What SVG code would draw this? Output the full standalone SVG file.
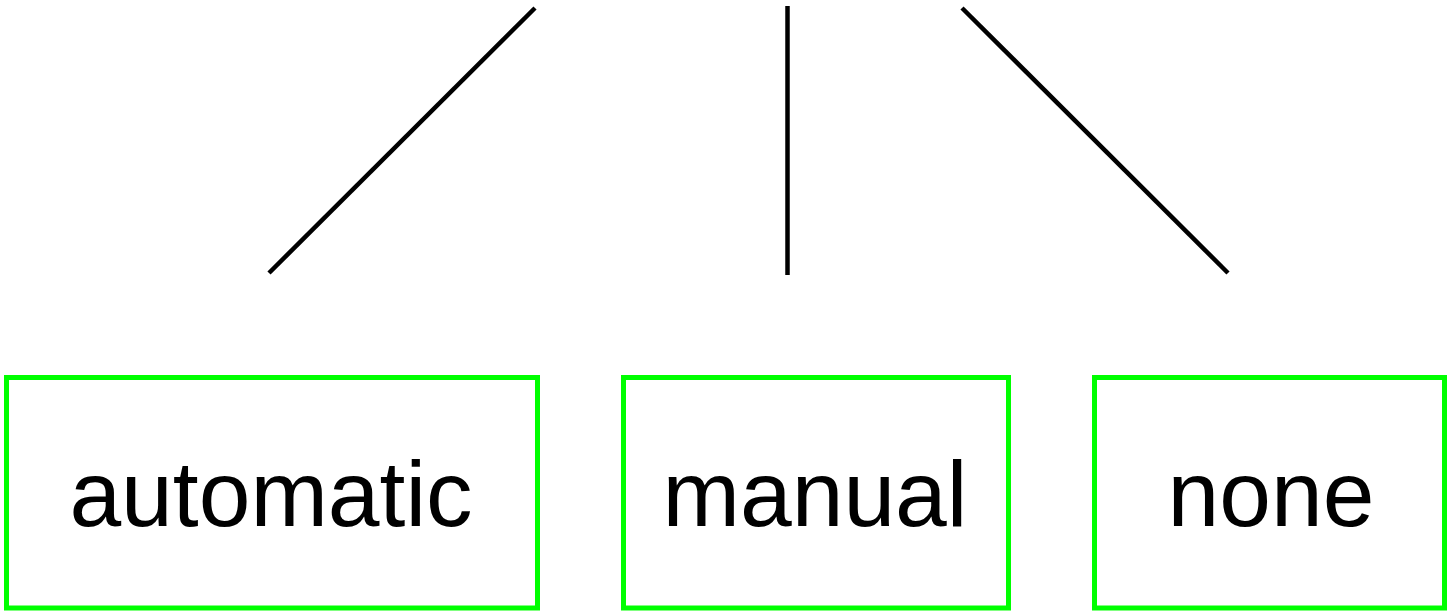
<svg xmlns="http://www.w3.org/2000/svg" width="1450" height="611" viewBox="0 0 1450 611">
<style>
.box{fill:#fff;stroke:#00ff00;stroke-width:5}
.lbl{font-family:"Liberation Sans",Arial,sans-serif;font-size:93px;fill:#000;text-anchor:middle}
.edge{stroke:#000;stroke-width:4.5;fill:none}
</style>
<rect width="1450" height="611" fill="#fff"/>
<g id="connectors">
<line class="edge" x1="535" y1="8" x2="269" y2="273"/>
<line class="edge" x1="787.5" y1="6" x2="787.5" y2="275"/>
<line class="edge" x1="962" y1="8" x2="1228" y2="273"/>
</g>
<g id="automatic">
<rect class="box" x="6.5" y="377.5" width="531" height="230.5"/>
<text class="lbl" x="271" y="526">automatic</text>
</g>
<g id="manual">
<rect class="box" x="623.5" y="377.5" width="385" height="230.5"/>
<text class="lbl" x="815" y="526">manual</text>
</g>
<g id="none">
<rect class="box" x="1094.5" y="377.5" width="350" height="230.5"/>
<text class="lbl" x="1271" y="526">none</text>
</g>
</svg>
